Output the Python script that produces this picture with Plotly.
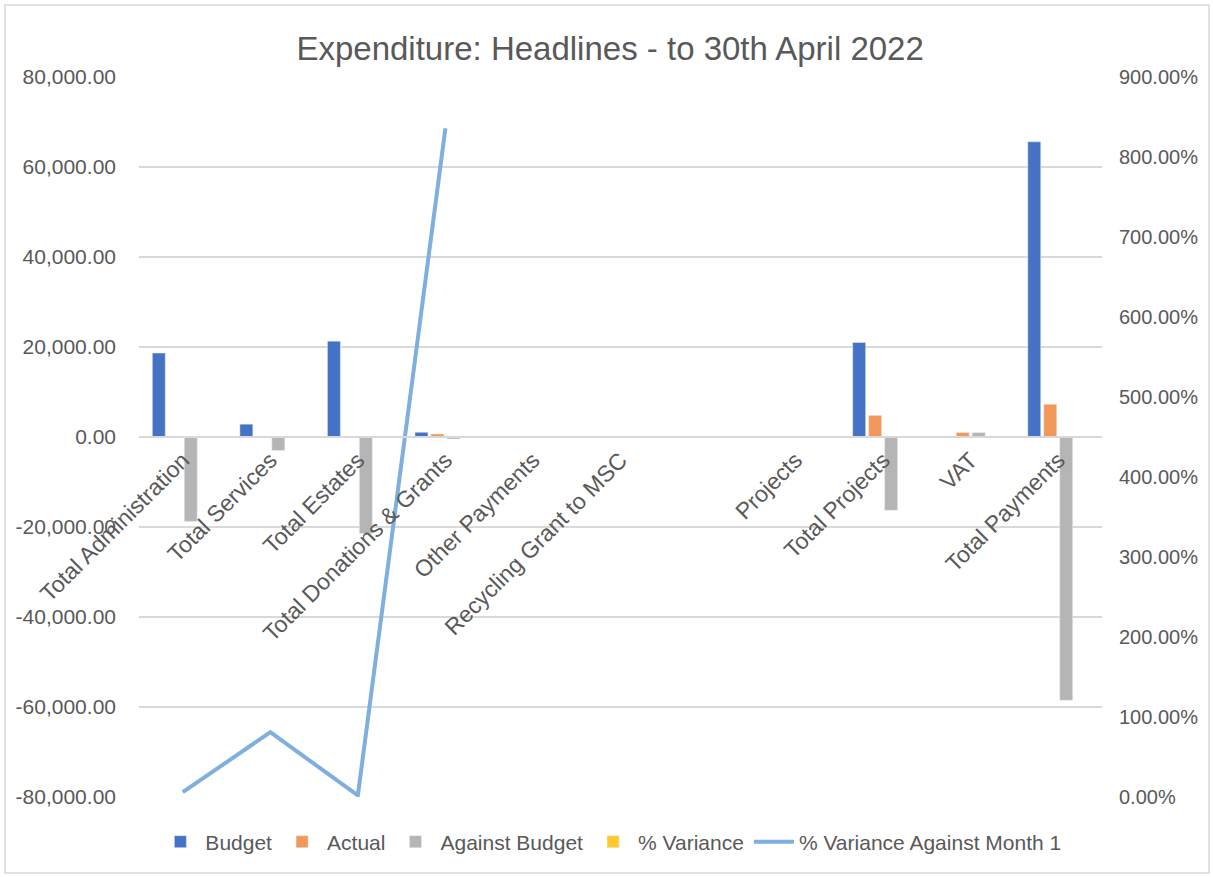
import plotly.graph_objects as go

categories = ["Total Administration", "Total Services", "Total Estates",
              "Total Donations & Grants", "Other Payments", "Recycling Grant to MSC",
              " ", "Projects", "Total Projects", "VAT", "Total Payments"]
budget = [18650, 2850, 21300, 1050, 0, 0, 0, 0, 21000, 0, 65600]
actual = [0, 100, 0, 670, 0, 0, 0, 0, 4800, 980, 7270]
against_budget = [-18750, -3000, -21450, -450, 0, 0, 0, 0, -16300, 980, -58500]
pct_variance = [-1.0, -0.96, -1.0, -0.4, 0, 0, 0, 0, -0.77, 0, -0.89]
pct_vs_month1 = [0.06, 0.81, 0.02, 8.36, None, None, None, None, None, None, None]

y_ticks = [-80000, -60000, -40000, -20000, 0, 20000, 40000, 60000, 80000]
y_ticktext = [f"{v:,.2f}" for v in y_ticks]
y2_ticks = [0, 1, 2, 3, 4, 5, 6, 7, 8, 9]
y2_ticktext = [f"{v*100:.2f}%" for v in y2_ticks]

FONT = "Liberation Sans"
TXT = "#595959"
GRID = "#D9D9D9"

fig = go.Figure()
fig.add_trace(go.Bar(name="Budget", x=categories, y=budget, marker_color="#4472C4"))
fig.add_trace(go.Bar(name="Actual", x=categories, y=actual, marker_color="#F2985A"))
fig.add_trace(go.Bar(name="Against Budget", x=categories, y=against_budget, marker_color="#B5B5B5"))
fig.add_trace(go.Bar(name="% Variance", x=categories, y=pct_variance, marker_color="#FFC82D"))
fig.add_trace(go.Scatter(name="% Variance Against Month 1", x=categories, y=pct_vs_month1,
                         yaxis="y2", mode="lines", line=dict(color="#7EAFDD", width=4)))

W, H = 1213, 877
L, R, T, B = 139, 1102, 77, 797
pw, ph = R - L, B - T

fig.update_layout(
    width=W, height=H,
    margin=dict(l=L, r=W - R, t=T, b=H - B),
    paper_bgcolor="white", plot_bgcolor="white",
    font=dict(family=FONT, color=TXT, size=21),
    barmode="group", bargap=0.27, bargroupgap=0.19,
    title=dict(text="Expenditure: Headlines - to 30th April 2022",
               font=dict(family=FONT, size=33, color=TXT),
               x=0.503, xref="container", xanchor="center",
               y=1 - 48 / H, yref="container", yanchor="middle"),
    xaxis=dict(type="category", anchor="free", position=0.5,
               showline=True, linecolor=GRID, linewidth=1.5,
               showgrid=False, ticks="", tickangle=-45,
               tickfont=dict(family=FONT, size=23, color=TXT)),
    yaxis=dict(range=[-80000, 80000], tickvals=y_ticks, ticktext=y_ticktext,
               showgrid=True, gridcolor=GRID, gridwidth=1.5, zeroline=False,
               showline=False, ticks="", ticklabelstandoff=22,
               tickfont=dict(family=FONT, size=21, color=TXT)),
    yaxis2=dict(range=[0, 9], tickvals=y2_ticks, ticktext=y2_ticktext,
                overlaying="y", side="right", showgrid=False, zeroline=False,
                showline=False, ticks="", ticklabelstandoff=16,
                tickfont=dict(family=FONT, size=20, color=TXT)),
    legend=dict(orientation="h", x=0.49, xanchor="center",
                y=(B - 842) / ph, yanchor="middle",
                font=dict(family=FONT, size=21, color=TXT),
                itemwidth=40, tracegroupgap=0),
    showlegend=True,
)

fig.add_shape(type="rect", xref="paper", yref="paper",
              x0=(5 - L) / pw, x1=(1209 - L) / pw,
              y0=(B - 873) / ph, y1=(B - 5) / ph,
              line=dict(color=GRID, width=1.5), fillcolor="rgba(0,0,0,0)", layer="below")

fig.write_html("out.html")
